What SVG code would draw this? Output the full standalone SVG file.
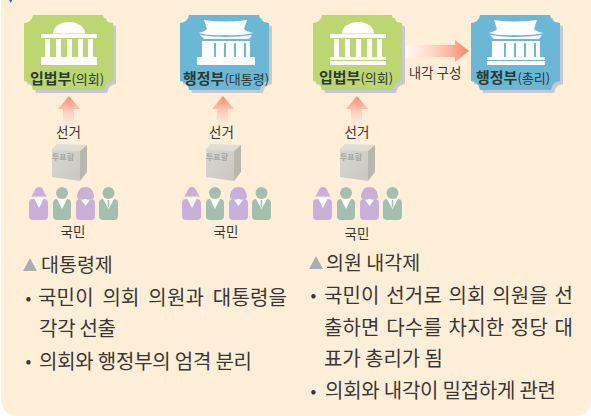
<svg xmlns="http://www.w3.org/2000/svg" xmlns:xlink="http://www.w3.org/1999/xlink" width="591" height="416" viewBox="0 0 591 416">
<style>
text{font-family:"Noto Sans CJK KR","Noto Sans",sans-serif;fill:#3a3634}
.cap{font-size:13.5px;text-anchor:middle}
.nb{font-size:15px;font-weight:700;fill:#2c3a34}
.ns{font-size:13px;font-weight:400}
.body{font-size:20px}
.head{font-size:19.500px}
.bul{font-size:17px}
.w{fill:#fff}
.g{fill:#a3bfae}
.p{fill:#c9b0d8}
</style>
<defs>
<linearGradient id="up" x1="0" y1="1" x2="0" y2="0"><stop offset="0" stop-color="#fff" stop-opacity=".2"/><stop offset="1" stop-color="#fb8668"/></linearGradient>
<linearGradient id="rt" x1="0" y1="0" x2="1" y2="0"><stop offset="0" stop-color="#fff" stop-opacity=".5"/><stop offset="1" stop-color="#fb8668"/></linearGradient>
<linearGradient id="box" x1="0" y1="0" x2="1" y2="1"><stop offset="0" stop-color="#d8d8d2"/><stop offset="1" stop-color="#c8c8c0"/></linearGradient>
<path id="card" d="M33 15H103Q104 22 113 23V81Q105 82 104 90H33Q32 82 24 81V23Q32 22 33 15Z"/>
<g id="dome">
<path class="w" d="M53 33.500A16 11.500 0 0 1 85 33.500Z"/>
<rect class="w" x="41" y="34" width="56" height="4"/>
<rect class="w" x="45" y="39" width="5" height="18"/><rect class="w" x="56" y="39" width="5" height="18"/><rect class="w" x="67" y="39" width="5" height="18"/><rect class="w" x="78" y="39" width="5" height="18"/><rect class="w" x="88" y="39" width="5" height="18"/>
<rect class="w" x="41" y="57" width="56" height="8"/>
</g>
<g id="palace">
<path class="w" d="M204 20Q225 23 247 20L244 29Q247 32 254 33Q240 36 225 35Q210 36 198 33Q204 32 207 29Z"/>
<path class="w" d="M200 35Q225 39 252 35L249 39H204Z"/>
<path class="w" d="M202 41H250V57H202Z"/>
<rect x="214" y="43" width="2" height="14" fill="#6bb8d6"/><rect x="224" y="43" width="2" height="14" fill="#6bb8d6"/><rect x="234" y="43" width="2" height="14" fill="#6bb8d6"/><rect x="244" y="43" width="2" height="14" fill="#6bb8d6"/>
<rect class="w" x="197" y="57" width="58" height="8"/>
</g>
<g id="uparrow"><path fill="url(#up)" d="M63 133V109H58L69 96L80 109H74V133Z"/></g>
<g id="ballot">
<path fill="#dedeD8" d="M52 149L57 144L87 145L80 151Z"/>
<path fill="url(#box)" d="M52 149L80 151V181L52 177Z"/>
<path fill="#b8b8ae" d="M80 151L87 145V172L80 181Z"/>
<text x="63" y="160" style="font-size:8px;fill:#a8a8a2;font-weight:700;text-anchor:middle">투표함</text>
</g>
<g id="crowd">
<rect class="p" x="29" y="199" width="19" height="21" rx="4"/>
<path class="w" d="M34 198H44L39 208Z"/>
<path class="p" d="M39 187C34 187 35 193 31 196.500H47C43 193 44 187 39 187Z"/>
<rect class="g" x="53" y="199" width="18" height="21" rx="4"/>
<path class="w" d="M57 199H67L62 209Z"/>
<circle class="g" cx="62" cy="193" r="6"/>
<rect class="p" x="76" y="199" width="19" height="21" rx="4"/>
<path class="w" d="M79 197H92L85.500 206Z"/>
<path class="p" d="M77 198C77 190 81 187 85.500 187C90 187 94 190 94 198Q90 201 85.500 199Q81 201 77 198Z"/>
<rect class="g" x="99" y="199" width="19" height="21" rx="4"/>
<path class="w" d="M103 199H114L108.500 209Z"/>
<path class="g" d="M107.700 200H109.300V206L108.500 208L107.700 206Z"/>
<circle class="g" cx="108.500" cy="193" r="6"/>
</g>
</defs>
<rect width="591" height="416" fill="#fff"/>
<path d="M1 0H591V398Q591 416 573 416H19Q1 416 1 398Z" fill="#ffefd8"/>
<path fill="#1d6fa5" d="M9 0H12L11 3Z"/>

<g id="connectors">
<use xlink:href="#uparrow"/>
<use xlink:href="#uparrow" x="154"/>
<use xlink:href="#uparrow" x="288"/>
<path fill="url(#rt)" d="M405 45H455V40L469 51L455 62V57H405Z"/>
</g>

<g id="node-legislature-1">
<use xlink:href="#card" x="3" y="3" fill="#c8c8d2"/><use xlink:href="#card" fill="#bcd672"/>
<use xlink:href="#dome"/>
<text x="30" y="84" class="nb">입법부<tspan class="ns">(의회)</tspan></text>
</g>
<g id="node-executive-1">
<use xlink:href="#card" x="159" y="3" fill="#c8c8d2"/><use xlink:href="#card" x="156" fill="#6bb8d6"/>
<use xlink:href="#palace"/>
<text x="183" y="84" class="nb">행정부<tspan class="ns">(대통령)</tspan></text>
</g>
<g id="node-legislature-2">
<use xlink:href="#card" x="292" y="3" fill="#c8c8d2"/><use xlink:href="#card" x="289" fill="#bcd672"/>
<use xlink:href="#dome" x="289"/>
<rect x="330" y="60" width="56" height="1" fill="#bcd672"/>
<text x="319" y="83" class="nb">입법부<tspan class="ns">(의회)</tspan></text>
</g>
<g id="node-executive-2">
<use xlink:href="#card" x="450" y="3" fill="#c8c8d2"/><use xlink:href="#card" x="447" fill="#6bb8d6"/>
<use xlink:href="#palace" x="290"/>
<rect x="487" y="60" width="58" height="1" fill="#6bb8d6"/>
<text x="476" y="83" class="nb">행정부<tspan class="ns">(총리)</tspan></text>
</g>
<text x="435" y="78" class="cap">내각 구성</text>

<g id="node-vote-1"><text x="68.500" y="137" class="cap">선거</text><use xlink:href="#ballot"/><use xlink:href="#crowd"/><text x="73" y="237" class="cap">국민</text></g>
<g id="node-vote-2"><text x="221.500" y="137" class="cap">선거</text><use xlink:href="#ballot" x="154"/><use xlink:href="#crowd" x="153"/><text x="226" y="237" class="cap">국민</text></g>
<g id="node-vote-3"><text x="357" y="137" class="cap">선거</text><use xlink:href="#ballot" x="288"/><use xlink:href="#crowd" x="284"/><text x="357" y="239" class="cap">국민</text></g>

<g id="text-left">
<path d="M23 271L30 258L37 271Z" fill="#a9adb4"/>
<text x="41" y="272" class="head">대통령제</text>
<text x="25.500" y="304" class="bul">•</text>
<text x="38" y="305" class="body" textLength="249" lengthAdjust="spacing" word-spacing="4">국민이 의회 의원과 대통령을</text>
<text x="39" y="336" class="body" textLength="77" lengthAdjust="spacing">각각 선출</text>
<text x="25.500" y="367" class="bul">•</text>
<text x="39" y="369" class="body" textLength="213" lengthAdjust="spacing">의회와 행정부의 엄격 분리</text>
</g>
<g id="text-right">
<path d="M309 269L316 256L323 269Z" fill="#a9adb4"/>
<text x="326" y="270" class="head">의원 내각제</text>
<text x="310.500" y="301" class="bul">•</text>
<text x="324" y="303" class="body" textLength="249" lengthAdjust="spacing" word-spacing="2">국민이 선거로 의회 의원을 선</text>
<text x="324" y="335" class="body" textLength="249" lengthAdjust="spacing" word-spacing="2">출하면 다수를 차지한 정당 대</text>
<text x="324" y="366" class="body" textLength="119" lengthAdjust="spacing">표가 총리가 됨</text>
<text x="310.500" y="397" class="bul">•</text>
<text x="325" y="398" class="body" textLength="231" lengthAdjust="spacing">의회와 내각이 밀접하게 관련</text>
</g>
</svg>
